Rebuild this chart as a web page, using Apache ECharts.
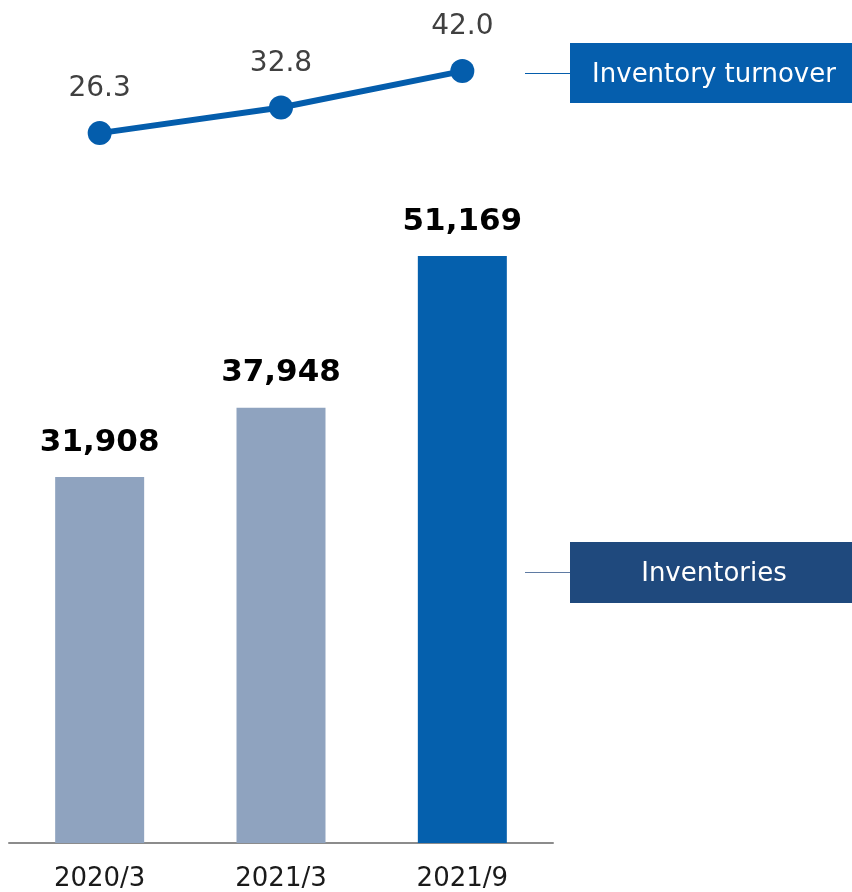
<!DOCTYPE html>
<html>
<head>
<meta charset="utf-8">
<title>Inventories</title>
<script src="https://cdn.jsdelivr.net/npm/echarts@6/dist/echarts.min.js"></script>
<style>
  html, body { margin: 0; padding: 0; background: #fff; }
  #chart { width: 852px; height: 892px; }
</style>
</head>
<body>
<div id="chart"></div>
<script>
// data
var categories = ['2020/3', '2021/3', '2021/9']
var inventories = [31908, 37948, 51169]
var turnover = [26.3, 32.8, 42.0]

var FONT = 'DejaVu Sans'
var chart = echarts.init(document.getElementById('chart'), null, { renderer: 'canvas' })

chart.setOption({
  animation: false,
  grid: [
    // bars
    { left: 9, width: 544, top: 40, bottom: 49 },
    // turnover line
    { left: 9, width: 544, top: 39.5, bottom: 734 }
  ],
  xAxis: [{
    type: 'category',
    gridIndex: 0,
    data: categories,
    axisLine: {
      lineStyle: { color: '#8c8c8c', width: 2 }
    },
    axisTick: { show: false },
    axisLabel: {
      color: '#1a1a1a',
      fontFamily: FONT,
      fontSize: 26,
      margin: 23
    }
  },
  {
    type: 'category',
    gridIndex: 1,
    data: categories,
    show: false
  }],
  yAxis: [{
    type: 'value',
    gridIndex: 0,
    min: 0,
    max: 70000,
    show: false
  },
  {
    type: 'value',
    gridIndex: 1,
    min: 20,
    max: 50,
    show: false
  }],
  series: [{
    name: 'Inventories',
    type: 'bar',
    xAxisIndex: 0,
    yAxisIndex: 0,
    barWidth: 89,
    data: inventories,
    itemStyle: {
      // latest period highlighted
      color: function(p) {
        return p.dataIndex === inventories.length - 1 ? '#0560ad' : '#8fa3bf'
      }
    },
    label: {
      show: true,
      position: 'top',
      distance: 19,
      color: '#000',
      fontFamily: FONT,
      fontWeight: 'bold',
      fontSize: 31,
      formatter: function(p) {
        return p.value.toLocaleString('en-US')
      }
    }
  },
  {
    name: 'Inventory turnover',
    type: 'line',
    xAxisIndex: 1,
    yAxisIndex: 1,
    data: turnover,
    symbol: 'circle',
    symbolSize: 24,
    lineStyle: { color: '#045dac', width: 6 },
    itemStyle: { color: '#045dac' },
    label: {
      show: true,
      position: 'top',
      distance: 18,
      color: '#404040',
      fontFamily: FONT,
      fontSize: 28,
      formatter: function(p) {
        return p.value.toFixed(1)
      }
    }
  }],
  graphic: [
    // legend tags
    {
      type: 'line',
      shape: { x1: 525, y1: 73.5, x2: 570, y2: 73.5 },
      style: { stroke: '#045dac', lineWidth: 1.2 }
    },
    {
      type: 'rect',
      shape: { x: 570, y: 43, width: 282, height: 60 },
      style: { fill: '#055ead' }
    },
    {
      type: 'text',
      x: 714,
      y: 75,
      style: {
        text: 'Inventory turnover',
        fill: '#fff',
        font: '26px "DejaVu Sans"',
        align: 'center',
        verticalAlign: 'middle'
      }
    },
    {
      type: 'line',
      shape: { x1: 525, y1: 572.5, x2: 570, y2: 572.5 },
      style: { stroke: '#5f7ba3', lineWidth: 1.2 }
    },
    {
      type: 'rect',
      shape: { x: 570, y: 542, width: 282, height: 61 },
      style: { fill: '#1f497d' }
    },
    {
      type: 'text',
      x: 714,
      y: 574,
      style: {
        text: 'Inventories',
        fill: '#fff',
        font: '26px "DejaVu Sans"',
        align: 'center',
        verticalAlign: 'middle'
      }
    }
  ]
})
</script>
</body>
</html>
